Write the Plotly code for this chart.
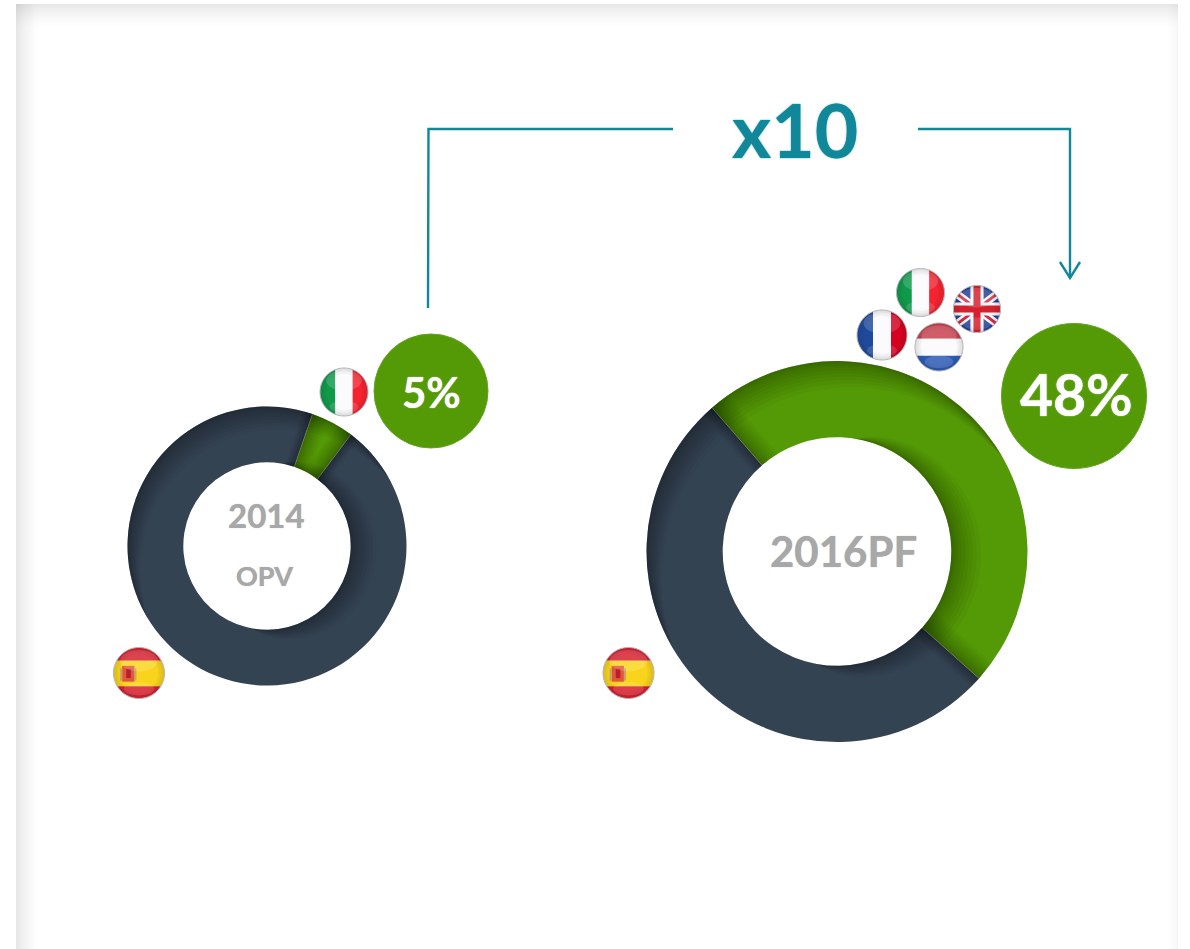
import math
import plotly.graph_objects as go

W, H = 1190, 949

# ---- data ----
labels = ["Resto de Europa", "España"]
share_2014 = [5, 95]
share_2016 = [48, 52]
titles = ["2014", "OPV", "2016PF"]
badges = ["5%", "48%"]
multiplier = "x10"

GREEN, NAVY, TEAL, GREY = "#549a07", "#344352", "#11889a", "#a8a8a8"
FONT = "Lato"


def fx(x):
    return x / W


def fy(y):
    return 1 - y / H


shapes = []


def poly(pts, fill, layer="above", line=None, lw=0):
    d = "M" + "L".join(f"{fx(x):.5f},{fy(y):.5f}" for x, y in pts) + "Z"
    shapes.append(dict(type="path", xref="paper", yref="paper", path=d, fillcolor=fill, layer=layer,
                       line=dict(color=line or "rgba(0,0,0,0)", width=lw)))


def seg(pts, color=TEAL, width=2.4):
    d = "M" + "L".join(f"{fx(x):.5f},{fy(y):.5f}" for x, y in pts)
    shapes.append(dict(type="path", xref="paper", yref="paper", path=d, layer="above",
                       line=dict(color=color, width=width)))


def rect(x0, y0, x1, y1, fill, layer="below"):
    shapes.append(dict(type="rect", xref="paper", yref="paper", x0=fx(x0), x1=fx(x1), y0=fy(y0), y1=fy(y1),
                       fillcolor=fill, line=dict(width=0), layer=layer))


def circle(cx, cy, r, fill="rgba(0,0,0,0)", line=None, lw=0):
    shapes.append(dict(type="circle", xref="paper", yref="paper", x0=fx(cx - r), x1=fx(cx + r),
                       y0=fy(cy + r), y1=fy(cy - r), fillcolor=fill, layer="above",
                       line=dict(color=line or "rgba(0,0,0,0)", width=lw)))


# ---- panel with soft inner edge ----
rect(16, 4, 1178, 949, "#ffffff")
for i in range(24):
    a = 0.095 * (1 - i / 24) ** 1.5
    rect(16 + i, 4, 17 + i, 949, f"rgba(0,0,0,{a:.4f})")
for i in range(24):
    a = 0.09 * (1 - i / 24) ** 1.5
    rect(16, 4 + i, 1178, 5 + i, f"rgba(0,0,0,{a:.4f})")
for i in range(10):
    a = 0.03 * (1 - i / 10)
    rect(1177 - i, 4, 1178 - i, 949, f"rgba(0,0,0,{a:.4f})")


# ---- donut shading ----
def pt(cx, cy, r, t):
    a = math.radians(t)
    return cx + r * math.sin(a), cy - r * math.cos(a)


def arc_angles(a0, a1, step=3):
    n = max(2, int((a1 - a0) / step) + 1)
    return [a0 + (a1 - a0) * i / (n - 1) for i in range(n)]


def slice_shade(cx, cy, R, r0, a0, a1, depth, edge, N=10, alpha=0.035):
    fill = f"rgba(0,0,0,{alpha})"
    ang = arc_angles(a0, a1)
    for k in range(1, N + 1):
        f = (k / N) ** 1.5
        # outer rim, darker toward the upper left
        wo = [depth * f * (max(0, math.cos(math.radians(t + 30))) ** 0.8) for t in ang]
        poly([pt(cx, cy, R, t) for t in ang] +
             [pt(cx, cy, R - w, t) for t, w in zip(ang[::-1], wo[::-1])], fill)
        # inner rim, darker toward the right
        wi = [depth * f * (max(0, math.cos(math.radians(t - 100))) ** 0.8) for t in ang]
        poly([pt(cx, cy, r0, t) for t in ang] +
             [pt(cx, cy, r0 + w, t) for t, w in zip(ang[::-1], wi[::-1])], fill)
        # straight edges
        rs = [r0 + (R - r0) * i / 8 for i in range(9)]
        w = edge * f
        poly([pt(cx, cy, r, a0) for r in rs] +
             [pt(cx, cy, r, a0 + math.degrees(w / r)) for r in rs[::-1]], fill)
        poly([pt(cx, cy, r, a1) for r in rs] +
             [pt(cx, cy, r, a1 - math.degrees(w / r)) for r in rs[::-1]], fill)


def donut_overlay(cx, cy, R, hole, values, rotation, depth, edge):
    r0 = R * hole
    a = rotation
    total = sum(values)
    for i, v in enumerate(values):
        b = a + 360 * v / total
        slice_shade(cx, cy, R, r0, a, b, depth, edge * (1 if i == 0 else 0.6))
        a = b
    a = rotation
    for v in values:
        seg([pt(cx, cy, r0, a), pt(cx, cy, R, a)], "rgba(255,255,255,0.35)", 0.6)
        a += 360 * v / total


def donut(cx, cy, R, hole, values, rotation):
    return go.Pie(labels=labels, values=values, hole=hole, sort=False, direction="clockwise",
                  rotation=rotation, textinfo="none", hoverinfo="label+percent",
                  marker=dict(colors=[GREEN, NAVY], line=dict(width=0)),
                  domain=dict(x=[fx(cx - R), fx(cx + R)], y=[fy(cy + R), fy(cy - R)]))


P1 = (267, 546, 139.5, 0.6, share_2014, 19)
P2 = (837, 551.5, 190.5, 0.6, share_2016, -41)
fig = go.Figure([donut(*P1), donut(*P2)])
donut_overlay(*P1, 26, 16)
donut_overlay(*P2, 30, 20)


# ---- flags ----
def clip_half(subject, nx, ny, c):
    out = []
    for i, p in enumerate(subject):
        q = subject[(i + 1) % len(subject)]
        dp, dq = p[0] * nx + p[1] * ny - c, q[0] * nx + q[1] * ny - c
        if dp <= 0:
            out.append(p)
        if dp * dq < 0:
            s = dp / (dp - dq)
            out.append((p[0] + s * (q[0] - p[0]), p[1] + s * (q[1] - p[1])))
    return out


def in_disc(subject, cx, cy, r, ymax):
    pts = subject
    for i in range(48):
        t = 2 * math.pi * i / 48
        nx, ny = math.cos(t), math.sin(t)
        pts = clip_half(pts, nx, ny, nx * cx + ny * cy + r)
        if not pts:
            return pts
    return clip_half(pts, 0, 1, ymax) if ymax else pts


def band(cx, cy, r, x0, x1, y0, y1, color, ymax=None):
    sq = [(cx + r * x0, cy + r * y0), (cx + r * x1, cy + r * y0),
          (cx + r * x1, cy + r * y1), (cx + r * x0, cy + r * y1)]
    pts = in_disc(sq, cx, cy, r, ymax)
    if pts:
        poly(pts, color)


def gloss(cx, cy, r, ymax=None):
    for k in range(5):
        rr = r * (1 - k * 0.05)
        ring = [(cx + rr * math.cos(2 * math.pi * i / 48), cy + rr * math.sin(2 * math.pi * i / 48)) for i in range(48)]
        inner = [(cx + (rr - r * 0.05) * math.cos(2 * math.pi * i / 48), cy + (rr - r * 0.05) * math.sin(2 * math.pi * i / 48)) for i in range(48)]
        seg_pts = ring + [ring[0]] + inner[::-1] + [inner[-1]]
        if ymax:
            seg_pts = clip_half(seg_pts, 0, 1, ymax)
        poly(seg_pts, f"rgba(40,40,50,{0.13 - k * 0.022:.3f})")
    # highlight on the upper part
    cap = [(cx + 0.74 * r * math.cos(2 * math.pi * i / 40), cy - 0.48 * r + 0.42 * r * math.sin(2 * math.pi * i / 40)) for i in range(40)]
    poly(cap, "rgba(255,255,255,0.16)")
    cap2 = [(cx + 0.6 * r * math.cos(2 * math.pi * i / 40), cy + 0.62 * r + 0.26 * r * math.sin(2 * math.pi * i / 40)) for i in range(40)]
    if ymax:
        cap2 = clip_half(cap2, 0, 1, ymax)
    poly(cap2, "rgba(255,255,255,0.14)")
    edge = [(cx + r * math.cos(2 * math.pi * i / 64), cy + r * math.sin(2 * math.pi * i / 64)) for i in range(64)]
    if ymax:
        edge = clip_half(edge, 0, 1, ymax)
    poly(edge, "rgba(0,0,0,0)", line="#b5b5b8", lw=1)


def tricolor_v(cx, cy, r, a, b, c, ymax=None):
    band(cx, cy, r, -1, -0.36, -1, 1, a, ymax)
    band(cx, cy, r, -0.36, 0.36, -1, 1, b, ymax)
    band(cx, cy, r, 0.36, 1, -1, 1, c, ymax)
    gloss(cx, cy, r, ymax)


def italy(cx, cy, r):
    tricolor_v(cx, cy, r, "#0f9a4a", "#fbfbfd", "#f5222f")


def france(cx, cy, r, ymax):
    tricolor_v(cx, cy, r, "#1f4a9c", "#fbfbfd", "#d6001f", ymax)


def nether(cx, cy, r, ymax):
    band(cx, cy, r, -1, 1, -1, -0.34, "#c8404c", ymax)
    band(cx, cy, r, -1, 1, -0.34, 0.36, "#fbfbfd", ymax)
    band(cx, cy, r, -1, 1, 0.36, 1, "#2d5bb5", ymax)
    gloss(cx, cy, r, ymax)


def spain(cx, cy, r):
    band(cx, cy, r, -1, 1, -1, -0.48, "#d81e2c")
    band(cx, cy, r, -1, 1, -0.48, 0.52, "#f9d41c")
    band(cx, cy, r, -1, 1, 0.52, 1, "#d81e2c")
    band(cx, cy, r, -0.66, -0.18, -0.28, 0.34, "#e0583a")
    band(cx, cy, r, -0.5, -0.32, -0.16, 0.2, "#b81f2b")
    band(cx, cy, r, -0.74, -0.66, -0.18, 0.3, "#c9a06a")
    band(cx, cy, r, -0.18, -0.1, -0.18, 0.3, "#c9a06a")
    gloss(cx, cy, r)


def diag(cx, cy, r, sign, half, color):
    L = 1.5 * r
    ux, uy = 0.8 * sign, 0.6
    nx, ny = -uy, ux
    h = half * r
    sq = [(cx - L * ux + h * nx, cy - L * uy + h * ny), (cx + L * ux + h * nx, cy + L * uy + h * ny),
          (cx + L * ux - h * nx, cy + L * uy - h * ny), (cx - L * ux - h * nx, cy - L * uy - h * ny)]
    pts = in_disc(sq, cx, cy, r, None)
    if pts:
        poly(pts, color)


def uk(cx, cy, r):
    band(cx, cy, r, -1, 1, -1, 1, "#23409a")
    for s in (1, -1):
        diag(cx, cy, r, s, 0.17, "#f6f6fa")
    for s in (1, -1):
        diag(cx, cy, r, s, 0.06, "#d3283f")
    band(cx, cy, r, -1, 1, -0.28, 0.28, "#f6f6fa")
    band(cx, cy, r, -0.28, 0.28, -1, 1, "#f6f6fa")
    band(cx, cy, r, -1, 1, -0.15, 0.15, "#d5202e")
    band(cx, cy, r, -0.15, 0.15, -1, 1, "#d5202e")
    gloss(cx, cy, r)


italy(344, 392, 24)
italy(920.5, 292.5, 24)
uk(977, 309, 23.5)
france(882, 335, 25, 360)
nether(939, 347, 24, 372)
spain(139, 673, 25.5)
spain(628.5, 673, 25.5)

# ---- badges ----
circle(431, 391, 57, GREEN, "#63a31f", 1)
circle(1074, 396, 72.5, GREEN, "#63a31f", 1)

# ---- connector ----
seg([(428, 308), (428.5, 129), (673, 129)])
seg([(918, 129), (1070, 129), (1070, 278)])
seg([(1060, 262), (1070, 278), (1080, 262)])


def label(text, x, y, size, color, halo=1.0):
    return dict(text=f"<b>{text}</b>", x=fx(x), y=fy(y), xref="paper", yref="paper", showarrow=False,
                xanchor="center", yanchor="middle",
                font=dict(family=FONT, size=size, color=color, shadow=f"0 0 {halo}px {color}"))


annotations = [
    label(multiplier, 795, 129, 75, TEAL, 1.5),
    label(badges[0], 431, 392, 42, "#ffffff"),
    label(badges[1], 1076, 394, 57, "#ffffff", 1.2),
    label(titles[0], 266, 515, 33, GREY),
    label(titles[1], 264, 575, 27, GREY),
    label(titles[2], 843, 551, 42, GREY),
]

fig.update_layout(width=W, height=H, margin=dict(l=0, r=0, t=0, b=0), showlegend=False,
                  paper_bgcolor="#ffffff", plot_bgcolor="#ffffff", shapes=shapes, annotations=annotations)
fig.write_html("out.html", config=dict(displayModeBar=False),
               post_script="document.body.style.margin='0';document.body.style.overflow='hidden';")
